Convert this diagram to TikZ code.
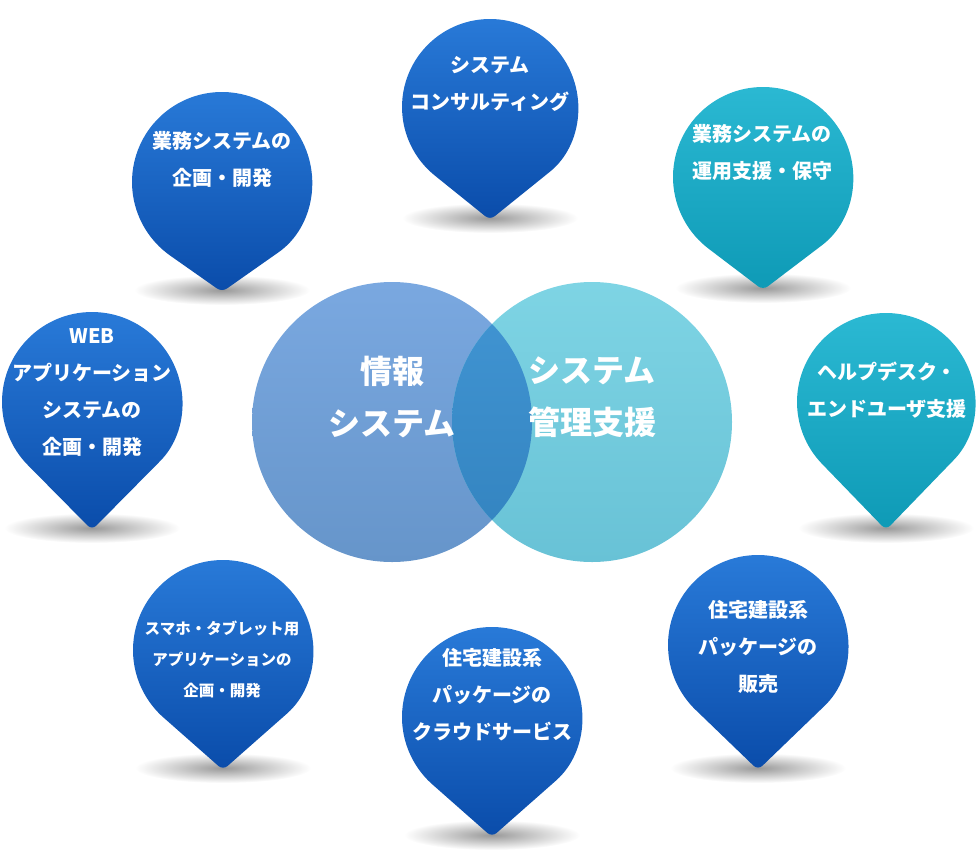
\documentclass[tikz,border=0pt]{standalone}
\usepackage{fontspec}
\setmainfont{Noto Sans CJK JP}
\usetikzlibrary{calc}

\definecolor{bluetop}{RGB}{42,124,218}
\definecolor{bluebot}{RGB}{10,76,170}
\definecolor{cyantop}{RGB}{44,186,212}
\definecolor{cyanbot}{RGB}{14,154,182}
\definecolor{infotop}{RGB}{122,168,224}
\definecolor{infobot}{RGB}{102,149,202}
\definecolor{mgmttop}{RGB}{126,212,228}
\definecolor{mgmtbot}{RGB}{104,194,214}
\definecolor{bothtop}{RGB}{66,150,212}
\definecolor{bothbot}{RGB}{50,130,190}

\tikzset{
	bluepin/.style={top color=bluetop, bottom color=bluebot},
	cyanpin/.style={top color=cyantop, bottom color=cyanbot},
	pinshadow/.style={inner color=black!40, outer color=white},
	pinlabel/.style={text=white, align=center, font=\bfseries\fontsize{20}{37}\selectfont},
	smalllabel/.style={pinlabel, font=\bfseries\fontsize{15.5}{31}\selectfont},
	venntext/.style={text=white, align=center, font=\bfseries\fontsize{32}{52}\selectfont},
}

% name, cx, cy, radius, tip distance, style
\newcommand{\pinmark}[6]{%
	\pgfmathsetmacro{\pinang}{acos(#4/#5)}%
	\coordinate (#1-c) at (#2,#3);
	\coordinate (#1-tip) at (#2,#3+#5);
	\shade[pinshadow] ($(#1-tip)+(0,-2)$) ellipse[x radius=88, y radius=15];
	\shade[#6] ($(#1-c)+(90+\pinang:#4)$) [rounded corners=6pt] -- (#1-tip)
		-- ($(#1-c)+(90-\pinang:#4)$) [sharp corners]
		arc[start angle=90-\pinang, end angle=\pinang-270, radius=#4] -- cycle;
}

\begin{document}
\begin{tikzpicture}[x=1pt, y=-1pt]
	\useasboundingbox (0,0) rectangle (980,860);

	\pinmark{consult}{490}{107}{88}{113}{bluepin}
	\pinmark{plan}{222}{182}{90}{110}{bluepin}
	\pinmark{support}{763}{177}{90}{113}{cyanpin}
	\pinmark{web}{92}{402}{90}{128}{bluepin}
	\pinmark{help}{886}{402}{89}{128}{cyanpin}
	\pinmark{mobile}{223}{650}{90}{120}{bluepin}
	\pinmark{cloud}{492}{717}{90}{120}{bluepin}
	\pinmark{sales}{758}{645}{90}{125}{bluepin}

	\node[pinlabel] (consulttext) at (490,84) {システム\\コンサルティング};
	\node[pinlabel] (plantext) at (222,159) {業務システムの\\企画・開発};
	\node[pinlabel] (supporttext) at (762,152) {業務システムの\\運用支援・保守};
	\node[pinlabel] (webtext) at (92,393) {WEB\\アプリケーション\\システムの\\企画・開発};
	\node[pinlabel] (helptext) at (887,390) {ヘルプデスク・\\エンドユーザ支援};
	\node[smalllabel] (mobiletext) at (222,659) {スマホ・タブレット用\\アプリケーションの\\企画・開発};
	\node[pinlabel] (cloudtext) at (492,695) {住宅建設系\\パッケージの\\クラウドサービス};
	\node[pinlabel] (salestext) at (758,647) {住宅建設系\\パッケージの\\販売};

	\node[circle, minimum size=280, inner sep=0, top color=infotop, bottom color=infobot] (info) at (392,422) {};
	\node[circle, minimum size=280, inner sep=0, top color=mgmttop, bottom color=mgmtbot] (mgmt) at (592,422) {};
	\begin{scope}
		\clip (info.center) circle[radius=140];
		\shade[top color=bothtop, bottom color=bothbot] (mgmt.center) circle[radius=140];
	\end{scope}

	\node[venntext] (infotext) at (392,397) {情報\\システム};
	\node[venntext] (mgmttext) at (592,397) {システム\\管理支援};
\end{tikzpicture}
\end{document}
